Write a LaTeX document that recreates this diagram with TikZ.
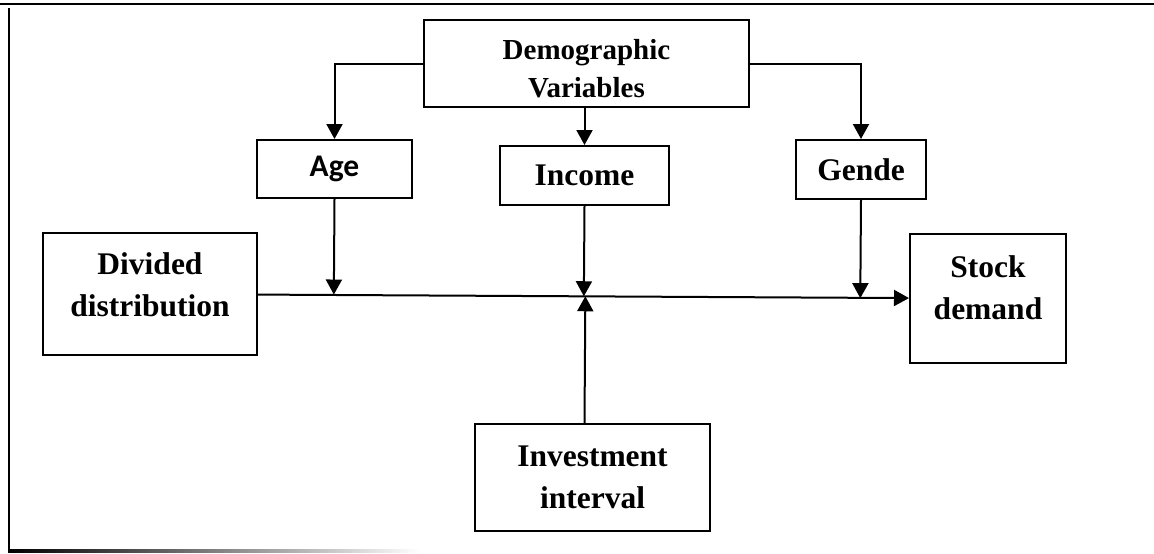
\documentclass[tikz,border=0pt]{standalone}
\usepackage{fontspec}
\setmainfont{Liberation Serif}
\newfontfamily\agefont{Carlito}
\usepackage{tikz}
\usetikzlibrary{arrows.meta,calc}

\begin{document}
\begin{tikzpicture}[x=1pt,y=-1pt,
  boite/.style={draw,line width=2pt,align=center,inner sep=0pt,
    font=\fontsize{31.5}{42}\selectfont\bfseries},
  fleche/.style={line width=2pt,-{Triangle[width=16pt,length=15pt]}}]
\useasboundingbox (0,0) rectangle (1154,554);
% Cadre
\draw [line width=2.8pt] (0,4) -- (1154,4);
\draw [line width=2.8pt] (9,8) -- (9,551);
\shade [left color=black,right color=white] (8,549.5) rectangle (420,552.5);
% Boîtes
\node [boite,minimum width=325pt,minimum height=87pt,text height=68pt,
  font=\fontsize{29}{38}\selectfont\bfseries] (demo) at (586.5,63.5) {Demographic\\Variables};
\node [boite,minimum width=155pt,minimum height=58pt,
  font=\fontsize{31.5}{42}\agefont\bfseries] (age) at (334.5,169) {Age};
\node [boite,minimum width=169pt,minimum height=59pt] (income) at (584.5,175.5) {Income};
\node [boite,minimum width=130pt,minimum height=59pt] (gende) at (861,169.5) {Gende};
\node [boite,minimum width=214pt,minimum height=122pt,text depth=18pt] (divided) at (150,294) {Divided\\distribution};
\node [boite,minimum width=156pt,minimum height=129pt,text depth=22pt] (stock) at (988,298.5) {Stock\\demand};
\node [boite,minimum width=235pt,minimum height=107pt] (invest) at (592.5,477.5) {Investment\\interval};
% Flèches
\draw [fleche] (demo.west) -| (age);
\draw [fleche] (demo.east) -| (gende);
\draw [fleche] (income.north |- demo.south) -- (income.north);
\draw [fleche] (divided) -- (stock);
\draw [fleche] (age.south) -- ($(divided.east)!(age.south)!(stock.west)$);
\draw [fleche] (income.south) -- ($(divided.east)!(income.south)!(stock.west)$);
\draw [fleche] (gende.south) -- ($(divided.east)!(gende.south)!(stock.west)$);
\coordinate (invtop) at (invest.north -| income.south);
\draw [fleche] (invtop) -- ($(divided.east)!(invtop)!(stock.west)$);
\end{tikzpicture}
\end{document}
